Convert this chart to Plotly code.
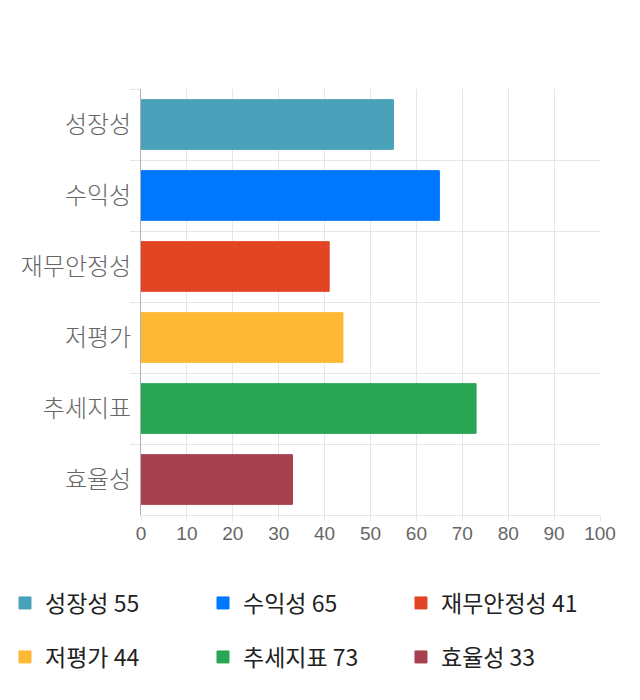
import plotly.graph_objects as go

categories = ["성장성", "수익성", "재무안정성", "저평가", "추세지표", "효율성"]
values = [55, 65, 41, 44, 73, 33]
colors = ["#4aa1ba", "#0077ff", "#e34424", "#feb833", "#29a653", "#a6404e"]
x_ticks = list(range(0, 101, 10))

# legend slot placement: column lefts (paper fraction), row centres (container px)
legend_cols = [-0.2963, 0.1351, 0.5664]
legend_rows = [595, 649]

fig = go.Figure()
legend_layout = {}
for i, (c, v, col) in enumerate(zip(categories, values, colors)):
    key = "legend" if i == 0 else f"legend{i + 1}"
    fig.add_trace(go.Bar(
        y=[c], x=[v], orientation="h", name=f"{c} {v}",
        marker=dict(color=col, line=dict(color=col, width=1)),
        width=0.7, legend=key, hoverinfo="skip",
    ))
    legend_layout[key] = dict(
        orientation="v", xref="paper", yref="container",
        x=legend_cols[i % 3], xanchor="left",
        y=1 - legend_rows[i // 3] / 700, yanchor="middle",
        font=dict(family="Noto Sans CJK KR", size=23, color="#222"),
        bgcolor="rgba(0,0,0,0)", itemclick=False, itemdoubleclick=False,
    )

fig.update_layout(
    width=640, height=700,
    margin=dict(l=133, r=48, t=81, b=193, autoexpand=False),
    paper_bgcolor="white", plot_bgcolor="white",
    barmode="overlay",
    showlegend=True,
    **legend_layout,
    xaxis=dict(
        range=[0, 100], tickvals=x_ticks, ticktext=[str(t) for t in x_ticks],
        showgrid=True, gridcolor="#e6e6e6", gridwidth=1,
        ticks="outside", ticklen=5, tickcolor="#e6e6e6",
        showline=True, linecolor="#e6e6e6", zeroline=False,
        tickfont=dict(family="Liberation Sans", size=19, color="#666"),
        ticklabelstandoff=-4,
        fixedrange=True,
    ),
    yaxis=dict(
        type="category", categoryorder="array", categoryarray=categories,
        autorange="reversed", tickson="boundaries",
        showgrid=True, gridcolor="#e6e6e6", gridwidth=1,
        ticks="outside", ticklen=10, tickcolor="#e6e6e6",
        showline=True, linecolor="#b0b0b0", linewidth=1,
        tickfont=dict(family="Noto Sans CJK KR", size=24, color="#666", weight=300),
        ticklabelstandoff=4,
        fixedrange=True,
    ),
)

fig.write_html("out.html")
